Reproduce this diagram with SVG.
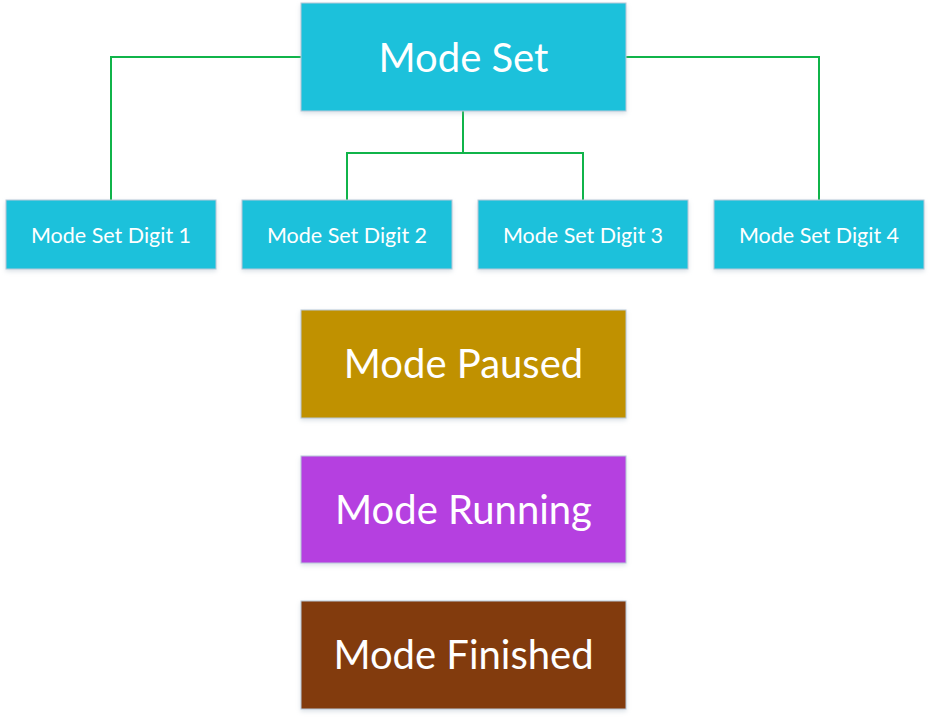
<svg xmlns="http://www.w3.org/2000/svg" width="931" height="719" viewBox="0 0 931 719">
<defs>
<filter id="sh" x="-5%" y="-5%" width="110%" height="120%"><feDropShadow dx="0" dy="2" stdDeviation="2" flood-color="#9ab" flood-opacity="0.35"/></filter>
</defs>
<style>
.box{stroke:#b8c8d8;stroke-width:1;filter:url(#sh)}
.cy{fill:#1ec1db}
.t{font-family:Lato,"Open Sans",sans-serif;fill:#fff;text-anchor:middle}
.big{font-size:40px}
.sm{font-size:21.5px}
.c{fill:none;stroke:#10b44a;stroke-width:2}
</style>
<rect width="931" height="719" fill="#fff"/>
<g id="connectors">
<polyline class="c" points="301,57 111,57 111,200"/>
<polyline class="c" points="626,57 819,57 819,200"/>
<polyline class="c" points="463,111 463,153 347,153 347,200"/>
<polyline class="c" points="463,153 583,153 583,200"/>
</g>
<g id="mode-set"><rect class="box cy" x="301" y="3" width="325" height="108"/><text class="t big" x="463.5" y="72">Mode Set</text></g>
<g id="digit1"><rect class="box cy" x="6" y="200" width="210" height="69"/><text class="t sm" x="111" y="243">Mode Set Digit 1</text></g>
<g id="digit2"><rect class="box cy" x="242" y="200" width="210" height="69"/><text class="t sm" x="347" y="243">Mode Set Digit 2</text></g>
<g id="digit3"><rect class="box cy" x="478" y="200" width="210" height="69"/><text class="t sm" x="583" y="243">Mode Set Digit 3</text></g>
<g id="digit4"><rect class="box cy" x="714" y="200" width="210" height="69"/><text class="t sm" x="819" y="243">Mode Set Digit 4</text></g>
<g id="paused"><rect class="box" fill="#c09100" x="301" y="310" width="325" height="108"/><text class="t big" x="463.5" y="378">Mode Paused</text></g>
<g id="running"><rect class="box" fill="#b540e0" x="301" y="456" width="325" height="107"/><text class="t big" x="463.5" y="524">Mode Running</text></g>
<g id="finished"><rect class="box" fill="#823b0c" x="301" y="601" width="325" height="108"/><text class="t big" x="463.5" y="669" font-size="39.5">Mode Finished</text></g>
</svg>
